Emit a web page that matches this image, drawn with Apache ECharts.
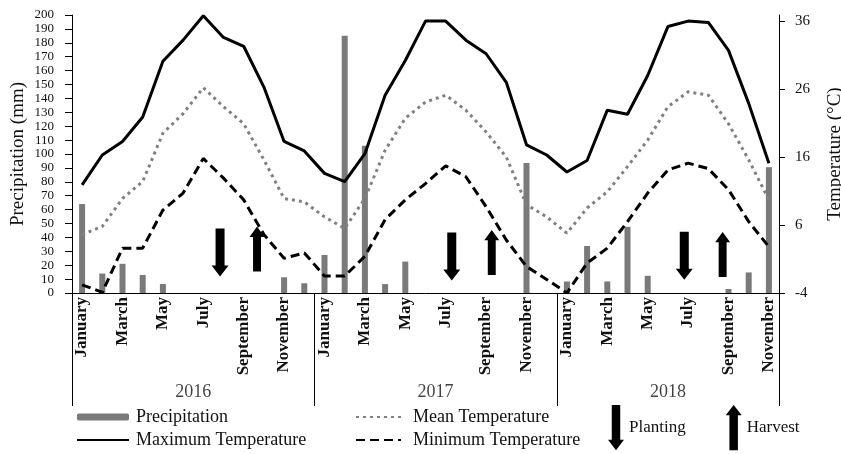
<!DOCTYPE html>
<html>
<head>
<meta charset="utf-8">
<script src="https://cdn.jsdelivr.net/npm/echarts@6/dist/echarts.min.js"></script>
<style>
    html, body { margin: 0; padding: 0; background: #fff; }
    #chart { width: 841px; height: 454px; }
</style>
</head>
<body>
<div id="chart"></div>
<script>
let monthNames = ['January', 'February', 'March', 'April', 'May', 'June', 'July', 'August', 'September', 'October', 'November', 'December']
let years = ['2016', '2017', '2018']
let monthsPerYear = [12, 12, 11]

let precipitation = [
    64, 14, 21, 13, 6.5, 0, 0, 0, 0, 0, 11.3, 7,
    27.4, 185, 106, 6.4, 22.6, 0, 0, 0, 0, 0, 93.6, 0,
    8.3, 33.8, 8.3, 47.6, 12.4, 0, 0, 0, 2.9, 14.8, 90.5
]
let maxTemp = [
    11.9, 16.3, 18.3, 21.9, 30.1, 33.2, 36.8, 33.6, 32.3, 26.3, 18.3, 16.9,
    13.6, 12.4, 16.5, 25.1, 30.2, 36, 36, 33.2, 31.2, 27, 17.8, 16.3,
    13.8, 15.5, 22.9, 22.3, 28, 35.2, 36, 35.8, 31.7, 23.9, 15.1
]
let meanTemp = [
    4.6, 5.8, 9.9, 12.4, 19.5, 22.4, 26.2, 23.4, 20.9, 15.6, 9.9, 9.4,
    7.2, 5.5, 9.9, 17, 21.7, 24.1, 25.1, 22.9, 19.7, 16, 9, 7.2,
    4.8, 8.5, 10.9, 14.6, 18.5, 23.4, 25.6, 25.1, 20.9, 15.6, 9.7
]
let minTemp = [
    -2.8, -3.9, 2.6, 2.6, 8.2, 10.7, 15.8, 12.9, 9.7, 4.6, 1.1, 1.9,
    -1.5, -1.5, 1.4, 6.8, 9.7, 12.1, 14.7, 13.1, 8.7, 3.8, -0.1, -2,
    -4, 0.4, 2.6, 6.5, 10.7, 14.1, 15.1, 14.3, 11.2, 6.5, 2.8
]
// arrow positions: [month position from left edge, precipitation level]
let plantingAt = [[7.33, 29.1], [18.8, 26.3], [30.31, 26.8]]
let harvestAt = [[9.16, 31.6], [20.78, 29.1], [32.21, 27.7]]

let downArrow = 'path://M4,0 L13,0 L13,37 L17,37 L8.5,48 L0,37 L4,37 Z'
let upArrow = 'path://M8.5,0 L17,11 L13,11 L13,48 L4,48 L4,11 L0,11 Z'

let months = []
let yearLabels = []
let start = 0
years.forEach((y, k) => {
    for (let m = 0; m < monthsPerYear[k]; m++) months.push(monthNames[m])
    yearLabels.push([start + monthsPerYear[k] / 2, 0.12, y])
    start += monthsPerYear[k]
})

const font = 'Liberation Serif'
const ink = '#111'
const noMarker = { opacity: 0 }

let myChart = echarts.init(document.getElementById('chart'))
let option = {
    animation: false,
    textStyle: { fontFamily: font, color: ink },
    grid: [
        { left: 72, right: 62, top: 15, bottom: 161, outerBoundsMode: 'none', containLabel: false },
        { left: 72, right: 62, top: 293, height: 113, outerBoundsMode: 'none', containLabel: false }
    ],
    legend: [
        {
            orient: 'vertical', left: 76, top: 408, padding: 0, itemWidth: 52, itemHeight: 7, itemGap: 5,
            selectedMode: false,
            textStyle: { fontFamily: font, fontSize: 18, color: ink, padding: [0, 0, 0, 2] },
            data: ['Precipitation', { name: 'Maximum Temperature', itemStyle: noMarker }]
        },
        {
            orient: 'vertical', left: 355, top: 408, padding: 0, itemWidth: 45, itemHeight: 7, itemGap: 5,
            selectedMode: false,
            textStyle: { fontFamily: font, fontSize: 18, color: ink, padding: [0, 0, 0, 7] },
            data: [
                { name: 'Mean Temperature', itemStyle: noMarker },
                { name: 'Minimum Temperature', itemStyle: noMarker }
            ]
        },
        {
            orient: 'horizontal', left: 608, top: 405, padding: 0, itemWidth: 16, itemHeight: 46, itemGap: 40,
            selectedMode: false,
            textStyle: { fontFamily: font, fontSize: 17, color: ink },
            data: [{ name: 'Planting', icon: downArrow }, { name: 'Harvest', icon: upArrow }]
        }
    ],
    xAxis: [
        {
            type: 'category',
            data: months,
            axisLine: { lineStyle: { color: '#000', width: 1 } },
            axisTick: { show: false },
            axisLabel: {
                interval: 1, rotate: 90, margin: 4,
                fontFamily: font, fontSize: 17, fontWeight: 'bold', color: ink
            }
        },
        { type: 'value', min: 0, max: 35, show: false },
        {
            type: 'value', gridIndex: 1, min: 0, max: 35, interval: 12,
            axisLine: { show: false }, axisTick: { show: false }, axisLabel: { show: false },
            splitLine: { show: true, lineStyle: { color: '#000', width: 1 } }
        }
    ],
    yAxis: [
        {
            type: 'value',
            min: 0, max: 200, interval: 10,
            name: 'Precipitation (mm)',
            nameLocation: 'middle', nameGap: 44, nameRotate: 90, nameMoveOverlap: false,
            nameTextStyle: { fontFamily: font, fontSize: 19, color: ink },
            axisLine: { show: true, lineStyle: { color: '#000', width: 1 } },
            axisTick: { show: true, length: 7, lineStyle: { color: '#000' } },
            axisLabel: {
                margin: 18, showMinLabel: true, showMaxLabel: true, hideOverlap: false,
                fontFamily: font, fontSize: 13, lineHeight: 12, color: ink
            },
            splitLine: { show: false }
        },
        {
            type: 'value',
            position: 'right',
            min: -4, max: 36.9, interval: 10,
            name: 'Temperature (°C)',
            nameLocation: 'middle', nameGap: 47, nameRotate: 90, nameMoveOverlap: false,
            nameTextStyle: { fontFamily: font, fontSize: 19, color: ink },
            axisLine: { show: true, lineStyle: { color: '#000', width: 1 } },
            axisTick: { show: true, length: 6, lineStyle: { color: '#000' } },
            axisLabel: { margin: 16, showMaxLabel: false, fontFamily: font, fontSize: 15, color: ink },
            splitLine: { show: false }
        },
        { type: 'value', gridIndex: 1, min: 0, max: 1, show: false }
    ],
    series: [
        {
            name: 'Precipitation',
            type: 'bar',
            barWidth: 6,
            itemStyle: { color: '#7a7a7a' },
            data: precipitation
        },
        {
            name: 'Maximum Temperature',
            type: 'line',
            yAxisIndex: 1,
            symbol: 'none',
            lineStyle: { color: '#000', width: 3 },
            itemStyle: { color: '#000' },
            data: maxTemp
        },
        {
            name: 'Mean Temperature',
            type: 'line',
            yAxisIndex: 1,
            symbol: 'none',
            lineStyle: { color: '#808080', width: 3, type: [3, 4] },
            itemStyle: { color: '#808080' },
            data: meanTemp
        },
        {
            name: 'Minimum Temperature',
            type: 'line',
            yAxisIndex: 1,
            symbol: 'none',
            lineStyle: { color: '#000', width: 3, type: [9, 5] },
            itemStyle: { color: '#000' },
            data: minTemp
        },
        {
            name: 'Planting',
            type: 'scatter',
            xAxisIndex: 1,
            symbol: downArrow,
            symbolSize: [17, 48],
            itemStyle: { color: '#000', opacity: 1 },
            z: 5,
            data: plantingAt
        },
        {
            name: 'Harvest',
            type: 'scatter',
            xAxisIndex: 1,
            symbol: upArrow,
            symbolSize: [15, 45],
            itemStyle: { color: '#000', opacity: 1 },
            z: 5,
            data: harvestAt
        },
        {
            name: 'years',
            type: 'scatter',
            xAxisIndex: 2,
            yAxisIndex: 2,
            symbolSize: 0,
            silent: true,
            label: {
                show: true, position: 'inside', formatter: (p) => p.value[2],
                fontFamily: font, fontSize: 18, color: ink
            },
            data: yearLabels
        }
    ]
}
myChart.setOption(option)
</script>
</body>
</html>
